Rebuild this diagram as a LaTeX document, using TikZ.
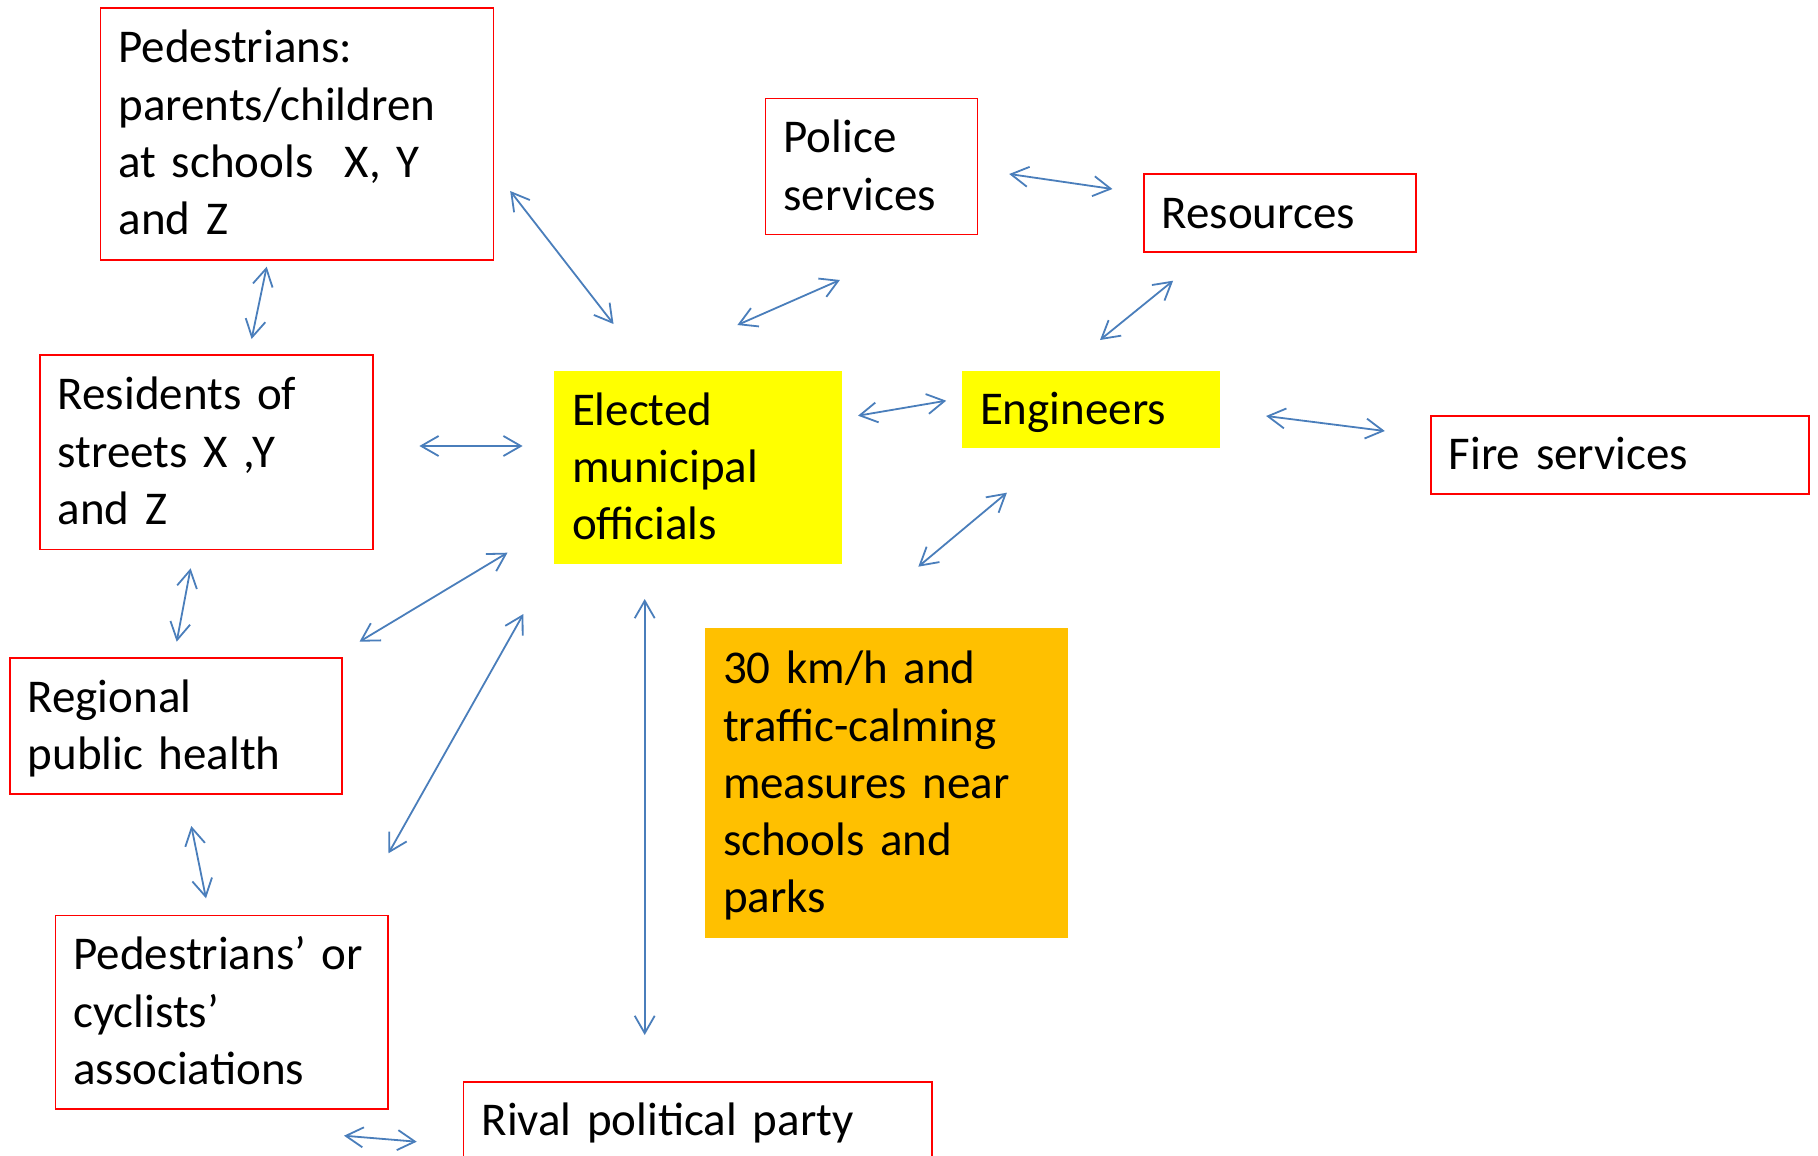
\documentclass[tikz,border=0pt]{standalone}
\usepackage{fontspec}
\setmainfont{Carlito}
\usetikzlibrary{arrows.meta}
\definecolor{boxred}{RGB}{255,0,0}
\definecolor{hlyellow}{RGB}{255,255,0}
\definecolor{hlorange}{RGB}{255,192,0}
\definecolor{arrowblue}{RGB}{74,126,187}
\newcommand{\mystrut}{\vrule height 21.5pt depth 6.5pt width 0pt}
\begin{document}
\begin{tikzpicture}[x=0.5pt,y=-0.5pt,
  base/.style={rectangle, inner xsep=9pt, inner ysep=0pt, align=left, anchor=center,
     font=\fontsize{23.5}{28.65}\selectfont,
     execute at begin node={\noindent\mystrut}, execute at end node={\mystrut}},
  redbox/.style={base, draw=boxred, line width=0.8pt, fill=white},
  yellowbox/.style={base, fill=hlyellow},
  orangebox/.style={base, fill=hlorange},
  link/.style={draw=arrowblue, line width=0.9pt,
     {Straight Barb[length=8.7pt,width=10pt]}-{Straight Barb[length=8.7pt,width=10pt]}}
]
\useasboundingbox (0,0) rectangle (1818,1155);

% boxes
\node[redbox, minimum width=196.55pt, text width=178.55pt, minimum height=125.85pt] (ped) at (297.05,133.85)
  {Pedestrians:\\parents/children\\at~schools~~X,~Y\\and~Z};
\node[redbox, minimum width=105.95pt, text width=87.95pt, minimum height=67.8pt] (police) at (871.55,166.5)
  {Police\\services};
\node[redbox, minimum width=136pt, text width=118pt, minimum height=39pt] (resources) at (1279.7,213)
  {Resources};
\node[redbox, minimum width=166.6pt, text width=148.6pt, minimum height=97.15pt] (resid) at (206.4,452.15)
  {Residents~of\\streets~X~,Y\\and~Z};
\node[yellowbox, minimum width=144.1pt, text width=126.1pt, minimum height=96.65pt] (elected) at (698.1,467.65)
  {Elected\\municipal\\officials};
\node[yellowbox, minimum width=128.85pt, text width=110.85pt, minimum height=38.65pt] (eng) at (1090.85,409.65)
  {Engineers};
\node[redbox, minimum width=189.2pt, text width=171.2pt, minimum height=38.85pt] (fire) at (1620,454.85)
  {Fire~services};
\node[orangebox, minimum width=181.5pt, text width=163.5pt, minimum height=155pt] (measures) at (886.5,783.3)
  {30~km/h~and\\traffic-calming\\measures~near\\schools~and\\parks};
\node[redbox, minimum width=166.15pt, text width=148.15pt, minimum height=68.15pt] (regional) at (175.85,725.85)
  {Regional\\public~health};
\node[redbox, minimum width=166.2pt, text width=148.2pt, minimum height=96.85pt] (pedcyc) at (221.5,1012.15)
  {Pedestrians’~or\\cyclists’\\associations};
\node[redbox, minimum width=234.25pt, text width=216.25pt, minimum height=39pt] (rival) at (697.75,1120.7)
  {Rival~political~party};

% connector end points
\coordinate (pr1) at (266.7,266.7);  \coordinate (pr2) at (251.6,339);
\coordinate (pe1) at (510.2,191);    \coordinate (pe2) at (613.5,324);
\coordinate (poe1) at (839.9,280);   \coordinate (poe2) at (737.4,325);
\coordinate (por1) at (1009.2,174);  \coordinate (por2) at (1112.4,189);
\coordinate (ren1) at (1173.1,280.7);\coordinate (ren2) at (1100,340);
\coordinate (een1) at (858,415.7);   \coordinate (een2) at (946.2,400.7);
\coordinate (enf1) at (1266.1,416);  \coordinate (enf2) at (1384.8,431);
\coordinate (enm1) at (1006.9,492.7);\coordinate (enm2) at (918.3,566.7);
\coordinate (rse1) at (419.4,446);   \coordinate (rse2) at (522.6,446);
\coordinate (rsg1) at (190.6,568.3); \coordinate (rsg2) at (176.7,641.7);
\coordinate (rge1) at (507.5,552.7); \coordinate (rge2) at (359.5,641.7);
\coordinate (pce1) at (523.4,614);   \coordinate (pce2) at (388.5,853.3);
\coordinate (rgp1) at (191.3,826);   \coordinate (rgp2) at (206,898.3);
\coordinate (pcr1) at (344,1135.7);  \coordinate (pcr2) at (416.7,1141.7);
\coordinate (erv1) at (644.7,599);   \coordinate (erv2) at (644.7,1035);

% connectors
\draw[link] (pr1) -- (pr2);
\draw[link] (pe1) -- (pe2);
\draw[link] (poe1) -- (poe2);
\draw[link] (por1) -- (por2);
\draw[link] (ren1) -- (ren2);
\draw[link] (een1) -- (een2);
\draw[link] (enf1) -- (enf2);
\draw[link] (enm1) -- (enm2);
\draw[link] (rse1) -- (rse2);
\draw[link] (rsg1) -- (rsg2);
\draw[link] (rge1) -- (rge2);
\draw[link] (pce1) -- (pce2);
\draw[link] (rgp1) -- (rgp2);
\draw[link] (pcr1) -- (pcr2);
\draw[link] (erv1) -- (erv2);
\end{tikzpicture}
\end{document}
